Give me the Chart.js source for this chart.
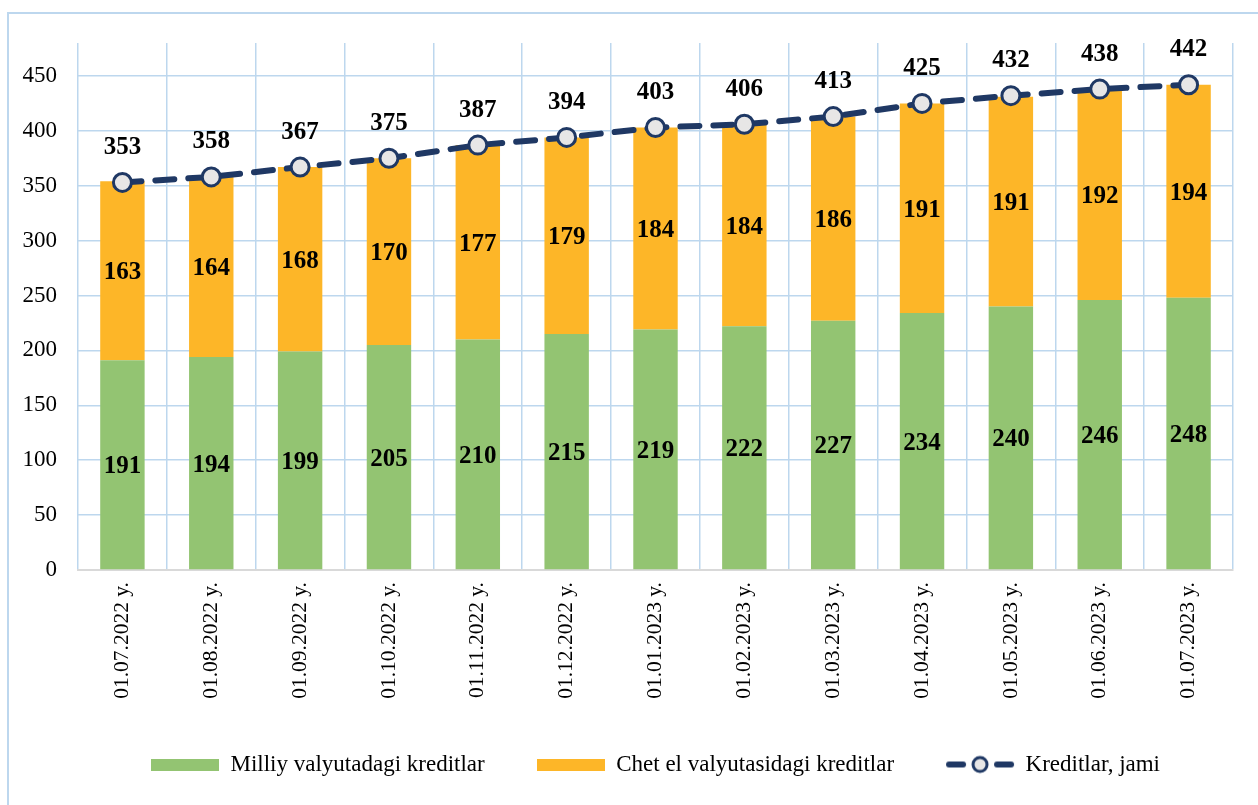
<!DOCTYPE html>
<html>
<head>
<meta charset="utf-8">
<script src="https://cdn.jsdelivr.net/npm/chart.js@4/dist/chart.umd.min.js"></script>
<style>
  html, body { margin: 0; padding: 0; background: #fff; overflow: hidden; }
  #frame { position: absolute; left: 7px; top: 12px; width: 1300px; height: 900px; border: 2px solid #BDD7EE; }
  #wrap { position: absolute; left: 0; top: 0; width: 1258px; height: 788px; }
</style>
</head>
<body>
<div id="frame"></div>
<div id="wrap"><canvas id="credits"></canvas></div>
<script>
const dates = [
    '01.07.2022 y.', '01.08.2022 y.', '01.09.2022 y.', '01.10.2022 y.', '01.11.2022 y.',
    '01.12.2022 y.', '01.01.2023 y.', '01.02.2023 y.', '01.03.2023 y.', '01.04.2023 y.',
    '01.05.2023 y.', '01.06.2023 y.', '01.07.2023 y.'
];
const national = [191, 194, 199, 205, 210, 215, 219, 222, 227, 234, 240, 246, 248];
const foreign = [163, 164, 168, 170, 177, 179, 184, 184, 186, 191, 191, 192, 194];
const total = [353, 358, 367, 375, 387, 394, 403, 406, 413, 425, 432, 438, 442];
const yMaxLabel = 450;
const seriesNames = ['Milliy valyutadagi kreditlar', 'Chet el valyutasidagi kreditlar', 'Kreditlar, jami'];

const GREEN = '#93C472';
const ORANGE = '#FDB628';
const NAVY = '#1F3864';
const GRID = '#BDD7EE';
const SERIF = "'Liberation Serif', 'Times New Roman', serif";

// legend symbols
function swatch(color) {
    const c = document.createElement('canvas');
    c.width = 68; c.height = 12;
    const g = c.getContext('2d');
    g.fillStyle = color;
    g.fillRect(0, 0, 68, 12);
    return c;
}
function lineSymbol() {
    const c = document.createElement('canvas');
    c.width = 70; c.height = 22;
    const g = c.getContext('2d');
    g.strokeStyle = NAVY;
    g.lineWidth = 6;
    g.lineCap = 'round';
    g.beginPath(); g.moveTo(4, 11); g.lineTo(18, 11); g.stroke();
    g.beginPath(); g.moveTo(52, 11); g.lineTo(66, 11); g.stroke();
    g.beginPath(); g.arc(35, 11, 7, 0, Math.PI * 2);
    g.fillStyle = '#E7E6E6'; g.fill();
    g.lineWidth = 3; g.stroke();
    return c;
}
const legendIcons = [swatch(GREEN), swatch(ORANGE), lineSymbol()];

const valueLabels = {
    id: 'valueLabels',
    afterDatasetsDraw(chart) {
        const c = chart.ctx;
        c.save();
        c.font = 'bold 25px ' + SERIF;
        c.fillStyle = '#000';
        c.textAlign = 'center';
        c.textBaseline = 'middle';
        chart.data.datasets.forEach((ds, i) => {
            const meta = chart.getDatasetMeta(i);
            meta.data.forEach((el, j) => {
                const v = ds.data[j];
                if (ds.type === 'line') {
                    c.fillText(v, el.x, el.y - 35);
                } else {
                    c.fillText(v, el.x, (el.y + el.base) / 2 + 2);
                }
            });
        });
        c.restore();
    }
};

const ctx = document.getElementById('credits');

new Chart(ctx, {
    data: {
        labels: dates,
        datasets: [
            {
                type: 'bar',
                label: seriesNames[0],
                data: national,
                backgroundColor: GREEN,
                stack: 'bars',
                order: 1
            },
            {
                type: 'bar',
                label: seriesNames[1],
                data: foreign,
                backgroundColor: ORANGE,
                stack: 'bars',
                order: 2
            },
            {
                type: 'line',
                label: seriesNames[2],
                data: total,
                stack: 'line',
                order: 0,
                borderColor: NAVY,
                borderWidth: 6,
                borderDash: [19, 14],
                borderCapStyle: 'round',
                pointRadius: 9,
                pointBorderWidth: 3,
                pointBackgroundColor: '#E7E6E6',
                pointBorderColor: NAVY,
                tension: 0
            }
        ]
    },
    options: {
        responsive: true,
        maintainAspectRatio: false,
        animation: false,
        layout: {
            padding: { left: 20, right: 25, top: 43, bottom: 2 }
        },
        datasets: {
            bar: {
                barPercentage: 0.5,
                categoryPercentage: 1
            }
        },
        plugins: {
            tooltip: { enabled: false },
            legend: {
                position: 'bottom',
                fullSize: false,
                labels: {
                    usePointStyle: true,
                    pointStyleWidth: 68,
                    padding: 52,
                    color: '#000',
                    font: { family: SERIF, size: 23 },
                    generateLabels: (chart) => seriesNames.map((name, i) => ({
                        text: name,
                        pointStyle: legendIcons[i],
                        fillStyle: 'transparent',
                        strokeStyle: 'transparent',
                        lineWidth: 0,
                        datasetIndex: i,
                        fontColor: '#000'
                    }))
                }
            }
        },
        scales: {
            x: {
                stacked: true,
                grid: {
                    color: GRID,
                    lineWidth: 1.5,
                    drawTicks: false,
                    offset: true
                },
                border: { color: '#D9D9D9', width: 2 },
                ticks: {
                    color: '#000',
                    font: { family: SERIF, size: 21.5 },
                    minRotation: 90,
                    maxRotation: 90,
                    padding: 12,
                    autoSkip: false
                },
                afterFit: (scale) => { scale.height = 131; }
            },
            y: {
                stacked: true,
                min: 0,
                max: 480,
                grid: {
                    color: (c) => (c.tick && c.tick.value > yMaxLabel) ? 'rgba(0,0,0,0)' : GRID,
                    lineWidth: 1.5,
                    drawTicks: false
                },
                border: { display: false },
                ticks: {
                    stepSize: 50,
                    autoSkip: false,
                    color: '#000',
                    padding: 21,
                    font: { family: SERIF, size: 23 },
                    callback: (v) => v > yMaxLabel ? '' : v
                },
                afterFit: (scale) => { scale.width = 58; }
            }
        }
    },
    plugins: [valueLabels]
});
</script>
</body>
</html>
